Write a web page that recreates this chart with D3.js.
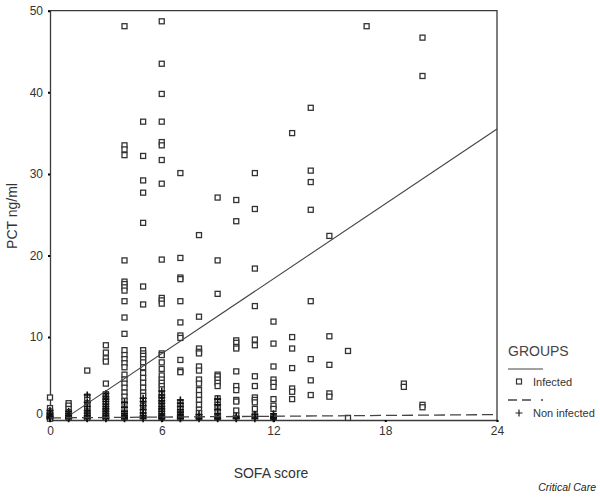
<!DOCTYPE html>
<html><head><meta charset="utf-8">
<script src="https://cdn.jsdelivr.net/npm/d3@7"></script>
<style>
body{margin:0;background:#fff;}
svg{display:block;font-family:"Liberation Sans",Arial,sans-serif;}
</style></head>
<body>
<svg id="c" width="600" height="497"></svg>
<script>
// ---- data ----
const xTicks = [0, 6, 12, 18, 24];
const yTicks = [0, 10, 20, 30, 40, 50];
const groupNames = ["Infected", "Non infected"];

// Infected: [SOFA score, PCT ng/ml]
const infectedPoints = [
  ...[2.6, 1.3, 0.9, 0.6, 0.3, 0.1, 0.0].map(v => [0, v]),
  ...[1.9, 1.6, 1.2, 0.8, 0.4, 0.1].map(v => [1, v]),
  ...[5.9, 2.7, 2.3, 1.9, 1.5, 1.2, 0.9, 0.6, 0.3, 0.1].map(v => [2, v]),
  ...[9.0, 8.1, 7.4, 7.0, 4.3, 3.0, 2.6, 2.2, 1.8, 1.4, 1.0, 0.7, 0.4, 0.1].map(v => [3, v]),
  ...[48.1, 33.5, 33.0, 32.3, 19.4, 16.8, 16.5, 16.1, 15.7, 14.4, 12.4, 10.4, 8.4, 7.8, 7.3, 6.8, 6.3, 5.4, 4.8, 4.3, 3.8, 3.2, 2.7, 2.2, 1.7, 1.1, 0.6, 0.1].map(v => [4, v]),
  ...[36.4, 32.2, 29.2, 27.7, 24.0, 16.2, 14.0, 8.4, 8.0, 7.7, 7.3, 6.9, 6.3, 5.6, 5.0, 4.4, 3.8, 3.2, 2.8, 2.2, 1.6, 1.0, 0.4].map(v => [5, v]),
  ...[48.7, 43.5, 39.8, 36.4, 33.9, 33.5, 31.7, 28.8, 19.5, 14.8, 14.5, 14.1, 8.0, 7.8, 6.9, 6.1, 5.3, 4.8, 4.4, 4.0, 3.6, 3.0, 2.6, 2.2, 1.8, 1.4, 1.0, 0.6, 0.2].map(v => [6, v]),
  ...[30.1, 19.7, 17.3, 17.1, 14.4, 11.8, 10.2, 9.9, 7.2, 5.9, 5.7, 2.0, 1.6, 1.2, 0.8, 0.4, 0.1].map(v => [7, v]),
  ...[22.5, 12.5, 8.6, 8.2, 8.0, 6.4, 5.9, 4.8, 4.3, 3.5, 2.9, 2.3, 1.7, 1.1, 0.7, 0.2].map(v => [8, v]),
  ...[27.1, 19.4, 15.3, 5.4, 5.2, 4.8, 4.4, 4.0, 2.5, 2.1, 1.7, 1.3, 0.9, 0.2].map(v => [9, v]),
  ...[26.8, 24.2, 9.6, 9.3, 8.8, 8.6, 5.8, 4.0, 3.5, 2.3, 2.1, 1.0, 0.4].map(v => [10, v]),
  ...[30.1, 25.7, 18.4, 13.8, 9.7, 9.0, 5.2, 4.0, 2.6, 2.3, 2.0, 1.2, 0.4].map(v => [11, v]),
  ...[11.9, 9.2, 6.4, 4.8, 4.4, 3.9, 2.4, 1.6, 1.2, 0.2].map(v => [12, v]),
  ...[35.0, 10.0, 8.6, 6.2, 3.7, 3.3, 2.4].map(v => [13, v]),
  ...[38.1, 30.4, 29.0, 25.6, 14.4, 7.3, 4.7, 2.9].map(v => [14, v]),
  ...[22.4, 10.1, 6.6, 3.1, 2.7].map(v => [15, v]),
  ...[8.3, 0.1].map(v => [16, v]),
  ...[48.1].map(v => [17, v]),
  ...[4.3, 3.9].map(v => [19, v]),
  ...[46.7, 42.0, 1.7, 1.4].map(v => [20, v])
];

// Non infected: [SOFA score, PCT ng/ml]
const nonInfectedPoints = [
  ...[1.0, 0.7, 0.5, 0.3, 0.2, 0.1, 0].map(v => [0, v]),
  ...[0.9, 0.6, 0.4, 0.2, 0.1, 0].map(v => [1, v]),
  ...[2.9, 2.0, 1.5, 1.0, 0.7, 0.4, 0.2, 0.1, 0].map(v => [2, v]),
  ...[3.1, 2.7, 2.4, 2.1, 1.8, 1.5, 1.2, 0.9, 0.6, 0.4, 0.2, 0.1, 0].map(v => [3, v]),
  ...[2.0, 1.4, 0.9, 0.6, 0.4, 0.2, 0.1, 0].map(v => [4, v]),
  ...[2.5, 2.1, 1.6, 1.1, 0.7, 0.4, 0.2, 0].map(v => [5, v]),
  ...[3.4, 2.9, 2.6, 2.2, 1.9, 1.5, 1.2, 0.9, 0.6, 0.4, 0.2, 0.1, 0].map(v => [6, v]),
  ...[2.3, 1.9, 1.5, 1.1, 0.8, 0.5, 0.3, 0.1, 0].map(v => [7, v]),
  ...[0.5, 0.2, 0].map(v => [8, v]),
  ...[2.4, 1.7, 1.1, 0.6, 0.3, 0.1, 0].map(v => [9, v]),
  ...[0.3, 0.1, 0].map(v => [10, v]),
  ...[0.5, 0.2, 0].map(v => [11, v]),
  ...[0.6, 0.3, 0.1, 0].map(v => [12, v])
];

// fitted regression lines (endpoints)
const infectedFit = [[1.15, 0.56], [24, 35.5]];
const nonInfectedFit = [[0, 0.1], [24, 0.5]];

// ---- drawing ----
const svg = d3.select("#c");
const ink = "#3a3a3a";
const mLeft = 50, mRight = 497, mTop = 10.7, mBottom = 420;
const x = d3.scaleLinear().domain([0, 24]).range([mLeft, mRight]);
const y = d3.scaleLinear().domain([-0.16, 50]).range([mBottom, mTop]);

// frame top/right
svg.append("path")
  .attr("d", `M${mLeft},${mTop}H${mRight}V${mBottom}`)
  .attr("fill", "none").attr("stroke", ink).attr("stroke-width", 1.3);

// axes
const xAxis = d3.axisBottom(x).tickValues(xTicks).tickSize(2).tickPadding(4);
const gx = svg.append("g").attr("transform", `translate(0,${mBottom})`).call(xAxis);
const yAxis = d3.axisLeft(y).tickValues(yTicks).tickSize(2).tickPadding(5);
const gy = svg.append("g").attr("transform", `translate(${mLeft},0)`).call(yAxis);
[gx, gy].forEach(g => {
  g.select(".domain").attr("stroke", ink).attr("stroke-width", 1.3);
  g.selectAll(".tick line").attr("stroke", "#000").attr("stroke-width", 2);
  g.selectAll("text").attr("font-family", "Liberation Sans, Arial, sans-serif")
    .attr("font-size", 12).attr("fill", "#333");
});
gy.selectAll(".tick").filter(d => d === 0).select("text").attr("dy", "-0.1em");

// infected squares
svg.append("g").selectAll("rect").data(infectedPoints).join("rect")
  .attr("x", d => x(d[0]) - 2.5).attr("y", d => y(d[1]) - 2.5)
  .attr("width", 5).attr("height", 5)
  .attr("fill", "#fff").attr("stroke", "#333").attr("stroke-width", 1.3);

// non infected plus markers (drawn on top)
svg.append("g").selectAll("path").data(nonInfectedPoints).join("path")
  .attr("transform", d => `translate(${x(d[0])},${y(d[1])})`)
  .attr("d", "M-3.5,0H3.5M0,-3.5V3.5")
  .attr("stroke", "#111").attr("stroke-width", 1.6).attr("fill", "none");

// regression lines
const line = d3.line().x(d => x(d[0])).y(d => y(d[1]));
svg.append("path").datum(infectedFit).attr("d", line)
  .attr("fill", "none").attr("stroke", "#444").attr("stroke-width", 1.1);
svg.append("path").datum(nonInfectedFit).attr("d", line)
  .attr("fill", "none").attr("stroke", "#444").attr("stroke-width", 1.3)
  .attr("stroke-dasharray", "11,5");

// axis titles
svg.append("text").attr("x", 271).attr("y", 478).attr("text-anchor", "middle")
  .attr("font-size", 14).attr("fill", "#333").text("SOFA score");
svg.append("text").attr("transform", "translate(17,216) rotate(-90)")
  .attr("text-anchor", "middle").attr("font-size", 14).attr("fill", "#333").text("PCT ng/ml");

// legend
const lg = svg.append("g");
lg.append("text").attr("x", 508).attr("y", 356).attr("font-size", 14).attr("fill", "#444").text("GROUPS");
lg.append("line").attr("x1", 508).attr("x2", 543).attr("y1", 369).attr("y2", 369)
  .attr("stroke", "#444").attr("stroke-width", 1.2);
lg.append("rect").attr("x", 516.5).attr("y", 379).attr("width", 5).attr("height", 5)
  .attr("fill", "#fff").attr("stroke", "#333").attr("stroke-width", 1.2);
lg.append("text").attr("x", 533).attr("y", 386).attr("font-size", 11).attr("fill", "#333").text(groupNames[0]);
lg.append("line").attr("x1", 508).attr("x2", 545).attr("y1", 400).attr("y2", 400)
  .attr("stroke", "#444").attr("stroke-width", 1.3).attr("stroke-dasharray", "9,5,9,10,2");
lg.append("path").attr("transform", "translate(519,413)").attr("d", "M-3.5,0H3.5M0,-3.5V3.5")
  .attr("stroke", "#222").attr("stroke-width", 1.2);
lg.append("text").attr("x", 533).attr("y", 417).attr("font-size", 11).attr("fill", "#333").text(groupNames[1]);

svg.append("text").attr("x", 596).attr("y", 491).attr("text-anchor", "end")
  .attr("font-size", 10.5).attr("font-style", "italic").attr("fill", "#222").text("Critical Care");
</script>
</body></html>
